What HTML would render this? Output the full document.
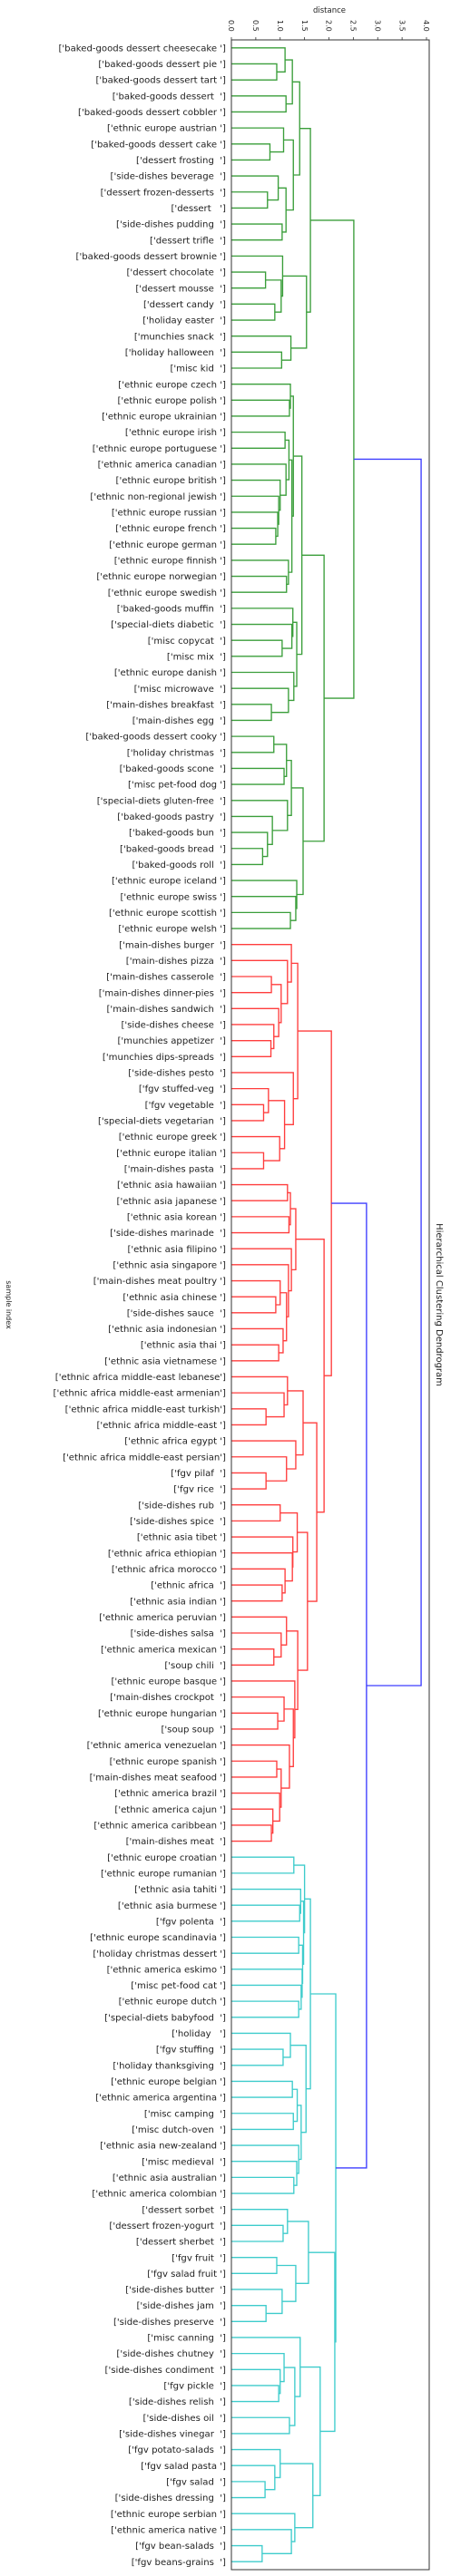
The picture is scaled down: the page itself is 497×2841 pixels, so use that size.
<!DOCTYPE html>
<html><head><meta charset="utf-8">
<style>
html,body{margin:0;padding:0;background:#fff;}
svg{display:block;}
text{font-family:"DejaVu Sans","Liberation Sans",sans-serif;fill:#222;}
</style></head>
<body>
<svg id="chart" width="497" height="2841" viewBox="0 0 497 2841" xmlns="http://www.w3.org/2000/svg">
  <text x="363" y="14" font-size="8.5" text-anchor="middle">distance</text>
  <text transform="translate(7,1439) rotate(90)" font-size="8" text-anchor="middle">sample index</text>
  <text transform="translate(481,1439) rotate(90)" font-size="10" text-anchor="middle">Hierarchical Clustering Dendrogram</text>
  <g id="links"></g>
  <g id="labels"></g>
  <g id="ticks"></g>
  <rect x="255" y="44" width="218" height="2790" fill="none" stroke="#333" stroke-width="1"/>
</svg>
<script>
const leafLabels = [
"['baked-goods dessert cheesecake ']","['baked-goods dessert pie ']","['baked-goods dessert tart ']","['baked-goods dessert  ']","['baked-goods dessert cobbler ']",
"['ethnic europe austrian ']","['baked-goods dessert cake ']","['dessert frosting  ']","['side-dishes beverage  ']","['dessert frozen-desserts  ']",
"['dessert   ']","['side-dishes pudding  ']","['dessert trifle  ']","['baked-goods dessert brownie ']","['dessert chocolate  ']",
"['dessert mousse  ']","['dessert candy  ']","['holiday easter  ']","['munchies snack  ']","['holiday halloween  ']",
"['misc kid  ']","['ethnic europe czech ']","['ethnic europe polish ']","['ethnic europe ukrainian ']","['ethnic europe irish ']",
"['ethnic europe portuguese ']","['ethnic america canadian ']","['ethnic europe british ']","['ethnic non-regional jewish ']","['ethnic europe russian ']",
"['ethnic europe french ']","['ethnic europe german ']","['ethnic europe finnish ']","['ethnic europe norwegian ']","['ethnic europe swedish ']",
"['baked-goods muffin  ']","['special-diets diabetic  ']","['misc copycat  ']","['misc mix  ']","['ethnic europe danish ']",
"['misc microwave  ']","['main-dishes breakfast  ']","['main-dishes egg  ']","['baked-goods dessert cooky ']","['holiday christmas  ']",
"['baked-goods scone  ']","['misc pet-food dog ']","['special-diets gluten-free  ']","['baked-goods pastry  ']","['baked-goods bun  ']",
"['baked-goods bread  ']","['baked-goods roll  ']","['ethnic europe iceland ']","['ethnic europe swiss ']","['ethnic europe scottish ']",
"['ethnic europe welsh ']","['main-dishes burger  ']","['main-dishes pizza  ']","['main-dishes casserole  ']","['main-dishes dinner-pies  ']",
"['main-dishes sandwich  ']","['side-dishes cheese  ']","['munchies appetizer  ']","['munchies dips-spreads  ']","['side-dishes pesto  ']",
"['fgv stuffed-veg  ']","['fgv vegetable  ']","['special-diets vegetarian  ']","['ethnic europe greek ']","['ethnic europe italian ']",
"['main-dishes pasta  ']","['ethnic asia hawaiian ']","['ethnic asia japanese ']","['ethnic asia korean ']","['side-dishes marinade  ']",
"['ethnic asia filipino ']","['ethnic asia singapore ']","['main-dishes meat poultry ']","['ethnic asia chinese ']","['side-dishes sauce  ']",
"['ethnic asia indonesian ']","['ethnic asia thai ']","['ethnic asia vietnamese ']","['ethnic africa middle-east lebanese']","['ethnic africa middle-east armenian']",
"['ethnic africa middle-east turkish']","['ethnic africa middle-east ']","['ethnic africa egypt ']","['ethnic africa middle-east persian']","['fgv pilaf  ']",
"['fgv rice  ']","['side-dishes rub  ']","['side-dishes spice  ']","['ethnic asia tibet ']","['ethnic africa ethiopian ']",
"['ethnic africa morocco ']","['ethnic africa  ']","['ethnic asia indian ']","['ethnic america peruvian ']","['side-dishes salsa  ']",
"['ethnic america mexican ']","['soup chili  ']","['ethnic europe basque ']","['main-dishes crockpot  ']","['ethnic europe hungarian ']",
"['soup soup  ']","['ethnic america venezuelan ']","['ethnic europe spanish ']","['main-dishes meat seafood ']","['ethnic america brazil ']",
"['ethnic america cajun ']","['ethnic america caribbean ']","['main-dishes meat  ']","['ethnic europe croatian ']","['ethnic europe rumanian ']",
"['ethnic asia tahiti ']","['ethnic asia burmese ']","['fgv polenta  ']","['ethnic europe scandinavia ']","['holiday christmas dessert ']",
"['ethnic america eskimo ']","['misc pet-food cat ']","['ethnic europe dutch ']","['special-diets babyfood  ']","['holiday   ']",
"['fgv stuffing  ']","['holiday thanksgiving  ']","['ethnic europe belgian ']","['ethnic america argentina ']","['misc camping  ']",
"['misc dutch-oven  ']","['ethnic asia new-zealand ']","['misc medieval  ']","['ethnic asia australian ']","['ethnic america colombian ']",
"['dessert sorbet  ']","['dessert frozen-yogurt  ']","['dessert sherbet  ']","['fgv fruit  ']","['fgv salad fruit ']",
"['side-dishes butter  ']","['side-dishes jam  ']","['side-dishes preserve  ']","['misc canning  ']","['side-dishes chutney  ']",
"['side-dishes condiment  ']","['fgv pickle  ']","['side-dishes relish  ']","['side-dishes oil  ']","['side-dishes vinegar  ']",
"['fgv potato-salads  ']","['fgv salad pasta ']","['fgv salad  ']","['side-dishes dressing  ']","['ethnic europe serbian ']",
"['ethnic america native ']","['fgv bean-salads  ']","['fgv beans-grains  ']"
];
// linkage: ids < 158 are leaves, id 158+k is merge k
const linkLeft = [1,0,3,159,6,5,9,8,11,165,163,161,14,16,170,13,19,18,173,169,
22,21,24,30,29,28,27,26,180,33,32,186,179,37,36,35,41,40,39,193,190,43,45,199,50,49,48,47,201,54,53,52,206,198,177,
58,62,61,60,213,57,56,66,65,69,68,221,64,219,71,73,227,78,77,81,80,231,76,75,229,85,84,83,89,88,87,240,91,96,95,94,93,245,100,99,98,104,103,107,111,110,109,256,106,255,102,253,250,244,237,226,
113,116,115,118,122,121,120,272,271,269,125,124,127,129,281,133,132,131,283,280,278,136,135,138,141,140,292,291,146,145,144,148,299,143,152,151,150,156,155,154,305,302,296,289,268,212];
const linkRight = [2,158,4,160,7,162,10,164,12,166,167,168,15,17,171,172,20,174,175,176,
23,178,25,31,181,182,183,184,185,34,187,188,189,38,191,192,42,194,195,196,197,44,46,200,51,202,203,204,205,55,207,208,209,210,211,
59,63,214,215,216,217,218,67,220,70,222,223,224,225,72,74,228,79,230,82,232,233,234,235,236,86,238,239,90,241,242,243,92,97,246,247,248,249,101,251,252,105,254,108,112,257,258,259,260,261,262,263,264,265,266,267,
114,117,270,119,123,273,274,275,276,277,126,279,128,130,282,134,284,285,286,287,288,137,290,139,142,293,294,295,147,297,298,149,300,301,153,303,304,157,306,307,308,309,310,311,312,313];
const linkHeight = [0.93,1.10,1.12,1.25,0.79,1.07,0.74,0.96,1.04,1.12,1.27,1.40,0.70,0.89,1.02,1.05,1.03,1.22,1.54,1.62,
1.19,1.21,1.10,0.91,0.95,0.97,1.00,1.12,1.18,1.13,1.17,1.24,1.27,1.04,1.24,1.26,0.82,1.17,1.28,1.34,1.445,0.87,1.08,1.13,0.64,0.74,0.84,1.15,1.23,1.21,1.32,1.34,1.47,1.90,2.51,
0.82,0.81,0.87,0.97,1.02,1.15,1.23,0.66,0.76,0.66,0.99,1.09,1.27,1.36,1.15,1.18,1.21,0.91,1.00,0.97,1.06,1.13,1.17,1.23,1.32,0.71,1.08,1.15,0.71,1.13,1.32,1.47,1.00,1.04,1.10,1.25,1.26,1.35,0.87,1.02,1.13,0.95,1.08,0.93,0.82,0.85,0.99,1.02,1.19,1.27,1.30,1.36,1.56,1.75,1.90,2.05,
1.28,1.40,1.42,1.38,1.38,1.43,1.45,1.46,1.48,1.50,1.06,1.21,1.25,1.27,1.35,1.28,1.34,1.38,1.43,1.53,1.62,1.06,1.15,0.93,0.71,1.04,1.32,1.58,0.97,1.00,1.08,1.19,1.30,1.41,0.69,0.89,1.00,0.63,1.23,1.30,1.67,1.82,2.12,2.14,2.77,3.89];
const tickValues = [0.0,0.5,1.0,1.5,2.0,2.5,3.0,3.5,4.0];
const tickLabels = ["0.0","0.5","1.0","1.5","2.0","2.5","3.0","3.5","4.0"];
const colorThreshold = 2.6;
const palette = ["#3a9e3a","#ff3d3d","#3ecccc"];
const aboveColor = "#3d3dff";

const NS = "http://www.w3.org/2000/svg";
const N = leafLabels.length;
const plotTop = 44, plotBottom = 2834, plotLeft = 255, plotRight = 473, xMax = 4.056;
const step = (plotBottom - plotTop) / N;
function xScale(v){ return plotLeft + v / xMax * (plotRight - plotLeft); }
function yLeaf(i){ return plotTop + (i + 0.5) * step; }

const posY = [], posX = [];
for (let i = 0; i < N; i++){ posY[i] = yLeaf(i); posX[i] = xScale(0); }
for (let k = 0; k < linkHeight.length; k++){
  const a = linkLeft[k], b = linkRight[k];
  posY[N + k] = (posY[a] + posY[b]) / 2;
  posX[N + k] = xScale(linkHeight[k]);
}
// colors: subtrees below threshold get palette colors in order
const colorOf = [];
let ci = 0;
function assign(id, col){
  if (id < N) return;
  const k = id - N;
  let c = col;
  if (c === null && linkHeight[k] < colorThreshold){ c = palette[ci % palette.length]; ci++; }
  colorOf[k] = c === null ? aboveColor : c;
  assign(linkLeft[k], c); assign(linkRight[k], c);
}
assign(N + linkHeight.length - 1, null);

const gl = document.getElementById('links');
for (let k = 0; k < linkHeight.length; k++){
  const a = linkLeft[k], b = linkRight[k], x = posX[N + k];
  const p = document.createElementNS(NS, 'path');
  p.setAttribute('d', `M${posX[a]},${posY[a]}H${x}V${posY[b]}H${posX[b]}`);
  p.setAttribute('fill', 'none');
  p.setAttribute('stroke', colorOf[k]);
  p.setAttribute('stroke-width', '1.35');
  
  
  gl.appendChild(p);
}
const glab = document.getElementById('labels');
for (let i = 0; i < N; i++){
  const t = document.createElementNS(NS, 'text');
  t.setAttribute('x', 249);
  t.setAttribute('y', posY[i] + 3.6);
  t.setAttribute('font-size', '10.1');
  t.setAttribute('text-anchor', 'end');
  t.setAttribute('xml:space', 'preserve');
  t.style.whiteSpace = 'pre';
  t.textContent = leafLabels[i];
  
  
  glab.appendChild(t);
}
const gt = document.getElementById('ticks');
for (let i = 0; i < tickValues.length; i++){
  const x = xScale(tickValues[i]);
  const l = document.createElementNS(NS, 'line');
  l.setAttribute('x1', x); l.setAttribute('x2', x);
  l.setAttribute('y1', plotTop - 3); l.setAttribute('y2', plotTop);
  l.setAttribute('stroke', '#333'); l.setAttribute('stroke-width', '0.8');
  
  
  gt.appendChild(l);
  const t = document.createElementNS(NS, 'text');
  t.setAttribute('transform', `translate(${x - 2.8},22) rotate(90)`);
  t.setAttribute('font-size', '8');
  t.textContent = tickLabels[i];
  
  
  gt.appendChild(t);
}
</script>
</body></html>
